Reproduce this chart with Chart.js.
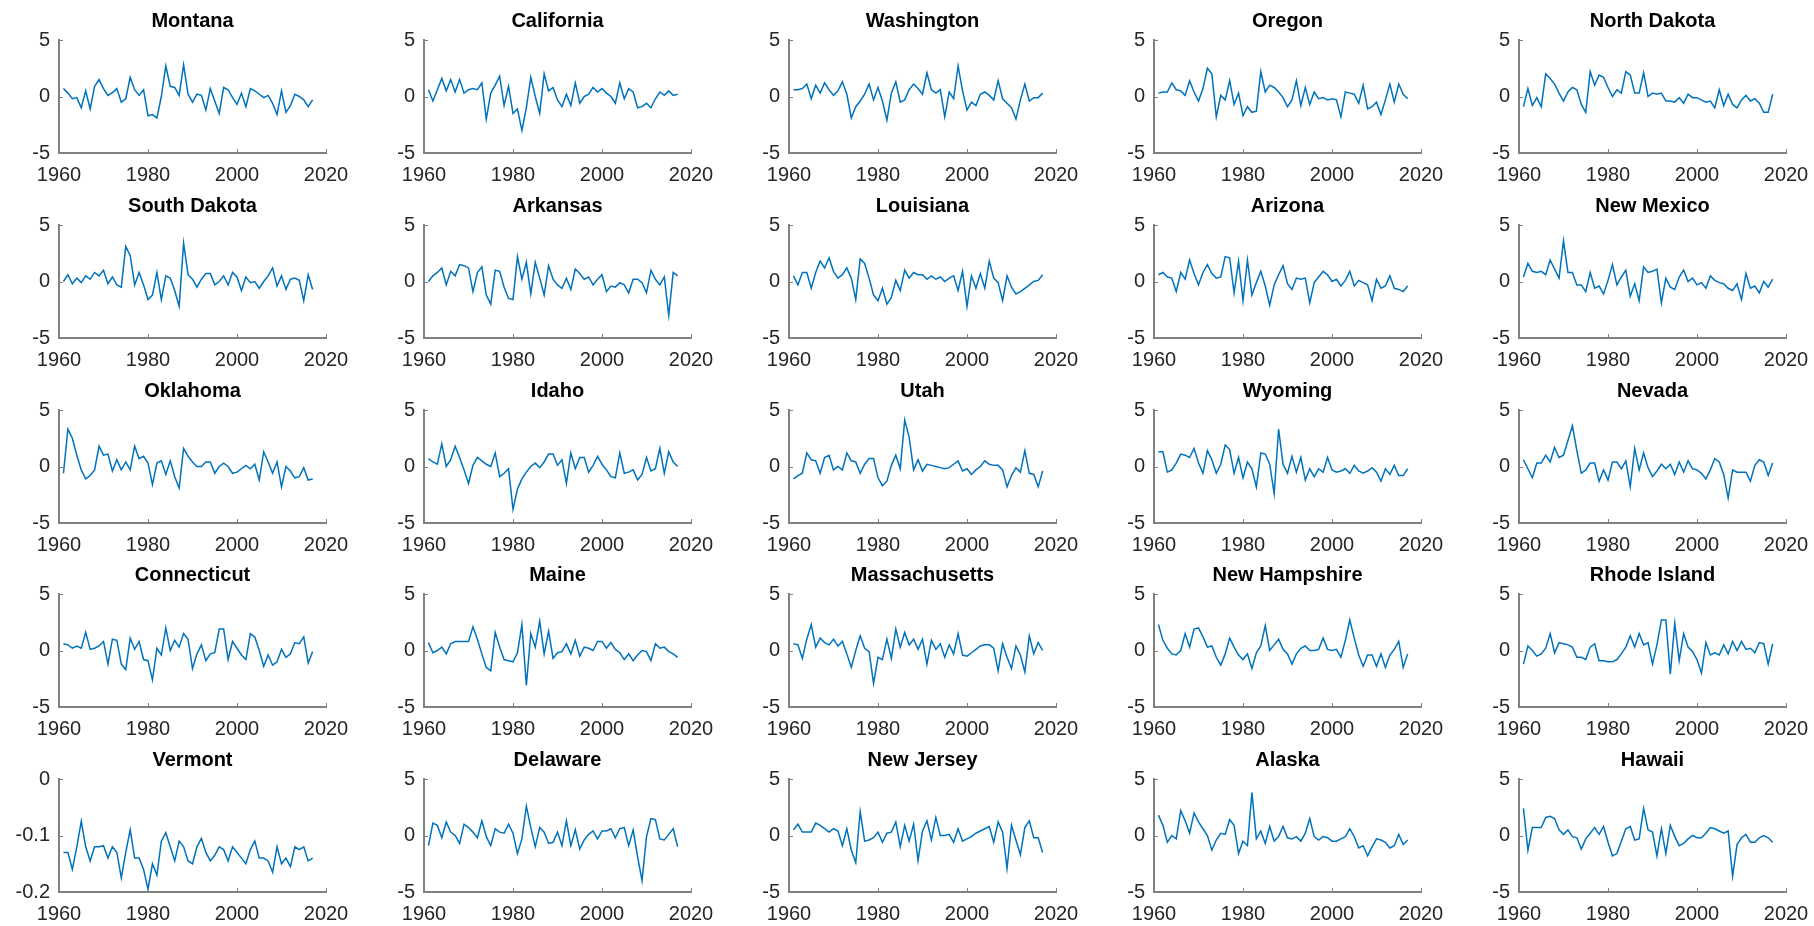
<!DOCTYPE html>
<html>
<head>
<meta charset="utf-8">
<title>State series 1961-2017</title>
<script src="https://cdn.jsdelivr.net/npm/chart.js@4.4.1/dist/chart.umd.min.js"></script>
<style>
  html, body { margin: 0; padding: 0; background: #fff; }
  body { width: 1814px; height: 926px; position: relative; overflow: hidden; }
  canvas.panel { position: absolute; }
</style>
</head>
<body>
<script>
const years = [
  1961, 1962, 1963, 1964, 1965, 1966, 1967, 1968, 1969, 1970,
  1971, 1972, 1973, 1974, 1975, 1976, 1977, 1978, 1979, 1980,
  1981, 1982, 1983, 1984, 1985, 1986, 1987, 1988, 1989, 1990,
  1991, 1992, 1993, 1994, 1995, 1996, 1997, 1998, 1999, 2000,
  2001, 2002, 2003, 2004, 2005, 2006, 2007, 2008, 2009, 2010,
  2011, 2012, 2013, 2014, 2015, 2016, 2017
];
const xTicks = [1960, 1980, 2000, 2020];
const yTicks = [-5, 0, 5];
const vermontTicks = [-0.2, -0.1, 0];

const montana = [
  0.7, 0.3, -0.2, -0.1, -1.0, 0.5, -1.1, 0.9, 1.5, 0.7,
  0.1, 0.35, 0.7, -0.5, -0.2, 1.7, 0.6, 0.1, 0.6, -1.7,
  -1.6, -1.9, 0.0, 2.7, 0.9, 0.8, 0.1, 2.8, 0.2, -0.5,
  0.2, 0.1, -1.2, 0.7, -0.4, -1.5, 0.8, 0.6, -0.1, -0.7,
  0.3, -0.9, 0.7, 0.5, 0.2, -0.1, 0.1, -0.6, -1.6, 0.5,
  -1.4, -0.8, 0.2, 0.0, -0.3, -0.9, -0.3
];
const california = [
  0.6, -0.4, 0.6, 1.6, 0.5, 1.5, 0.4, 1.5, 0.3, 0.6,
  0.7, 0.6, 1.2, -2.0, 0.3, 1.0, 1.8, -0.8, 0.9, -1.5,
  -1.1, -3.0, -1.0, 1.7, 0.0, -1.5, 2.0, 0.5, 0.8, -0.3,
  -0.9, 0.2, -0.8, 1.2, -0.6, 0.0, 0.2, 0.8, 0.4, 0.7,
  0.3, 0.0, -0.6, 1.2, -0.2, 0.7, 0.4, -1.0, -0.9, -0.6,
  -1.0, -0.2, 0.4, 0.1, 0.5, 0.1, 0.2
];
const washington = [
  0.6, 0.6, 0.7, 1.1, -0.2, 1.0, 0.3, 1.2, 0.6, 0.1,
  0.5, 1.3, 0.2, -1.9, -0.9, -0.4, 0.2, 1.1, -0.3, 0.8,
  -0.4, -2.1, 0.3, 1.3, -0.5, -0.3, 0.6, 1.1, 0.7, 0.2,
  2.1, 0.6, 0.3, 0.6, -1.8, 0.4, -0.2, 2.7, 0.5, -1.2,
  -0.5, -0.8, 0.2, 0.4, 0.1, -0.3, 1.4, -0.2, -0.6, -1.0,
  -2.0, -0.3, 1.1, -0.4, -0.1, -0.1, 0.3
];
const oregon = [
  0.3, 0.4, 0.4, 1.2, 0.6, 0.5, 0.1, 1.4, 0.4, -0.4,
  0.7, 2.5, 2.0, -1.8, 0.1, -0.3, 1.4, -0.7, 0.3, -1.7,
  -0.9, -1.4, -1.3, 2.2, 0.4, 1.0, 0.8, 0.4, -0.1, -0.9,
  -0.3, 1.4, -0.8, 0.8, -0.7, 0.4, -0.2, -0.1, -0.3, -0.2,
  -0.3, -1.8, 0.4, 0.3, 0.2, -0.6, 1.0, -1.1, -0.9, -0.5,
  -1.6, -0.3, 1.1, -0.5, 1.1, 0.2, -0.2
];
const northDakota = [
  -0.9, 0.7, -0.8, -0.1, -0.9, 2.0, 1.6, 1.1, 0.3, -0.4,
  0.4, 0.8, 0.6, -0.7, -1.4, 2.2, 1.0, 1.9, 1.7, 0.8,
  0.0, 0.6, 0.3, 2.2, 1.9, 0.3, 0.3, 2.1, 0.0, 0.3,
  0.2, 0.3, -0.4, -0.4, -0.5, -0.1, -0.6, 0.2, -0.1, -0.1,
  -0.3, -0.5, -0.4, -1.0, 0.6, -0.8, 0.2, -0.7, -1.0, -0.3,
  0.1, -0.4, -0.2, -0.6, -1.4, -1.4, 0.2
];
const southDakota = [
  0.0, 0.6, -0.2, 0.3, -0.1, 0.5, 0.2, 0.8, 0.5, 1.0,
  -0.2, 0.4, -0.3, -0.5, 3.1, 2.3, -0.3, 0.8, -0.3, -1.6,
  -1.2, 0.8, -1.6, 0.5, 0.3, -0.8, -2.2, 3.4, 0.6, 0.2,
  -0.5, 0.2, 0.7, 0.7, -0.3, 0.0, 0.5, -0.3, 0.8, 0.4,
  -0.8, 0.4, -0.1, 0.0, -0.6, 0.0, 0.5, 1.2, -0.4, 0.5,
  -0.7, 0.2, 0.3, 0.1, -1.7, 0.6, -0.7
];
const arkansas = [
  0.0, 0.5, 0.8, 1.2, -0.3, 0.9, 0.5, 1.5, 1.4, 1.2,
  -0.9, 0.8, 1.3, -1.2, -2.0, 1.0, 0.9, -0.5, -1.5, -1.6,
  2.2, 0.2, 1.7, -1.1, 1.7, 0.3, -1.2, 1.4, 0.2, -0.3,
  -0.6, 0.3, -0.7, 1.1, 0.7, 0.2, 0.4, -0.3, 0.2, 0.6,
  -0.9, -0.4, -0.5, -0.1, -0.3, -1.0, 0.2, 0.2, -0.1, -1.0,
  1.0, 0.2, -0.3, 0.4, -3.0, 0.8, 0.5
];
const louisiana = [
  0.5, -0.3, 0.8, 0.8, -0.6, 0.8, 1.8, 1.2, 2.1, 0.9,
  0.3, 0.6, 1.2, 0.3, -1.6, 2.0, 1.6, 0.3, -1.2, -1.7,
  -0.6, -2.0, -1.4, 0.1, -0.8, 1.0, 0.3, 0.8, 0.6, 0.6,
  0.2, 0.5, 0.2, 0.4, 0.0, 0.3, 0.5, -0.8, 0.9, -2.2,
  0.5, -0.6, 0.7, -0.6, 1.8, 0.3, -0.1, -1.7, 0.5, -0.5,
  -1.1, -0.9, -0.6, -0.3, 0.0, 0.1, 0.6
];
const arizona = [
  0.6, 0.8, 0.4, 0.3, -0.9, 0.8, 0.2, 1.9, 0.7, -0.3,
  0.8, 1.5, 0.7, 0.3, 0.4, 2.2, 2.1, -1.0, 1.8, -1.7,
  1.9, -1.2, -0.1, 0.9, -0.4, -2.1, -0.3, 0.6, 1.4, -0.2,
  -0.7, 0.3, 0.2, 0.3, -1.9, -0.1, 0.4, 0.9, 0.6, 0.0,
  0.2, -0.4, 0.1, 0.9, -0.4, 0.1, -0.1, -0.3, -1.7, 0.2,
  -0.6, -0.4, 0.5, -0.6, -0.7, -0.9, -0.4
];
const newMexico = [
  0.4, 1.6, 0.9, 0.8, 0.9, 0.6, 1.9, 1.1, 0.3, 3.6,
  0.8, 0.8, -0.3, -0.3, -0.9, 0.8, -0.6, -0.4, -1.1, 0.1,
  1.5, -0.3, 0.4, 1.0, -1.3, -0.2, -1.7, 1.3, 0.8, 0.9,
  1.1, -1.9, 0.3, -0.5, -0.7, 0.4, 1.0, 0.0, 0.3, -0.3,
  -0.1, -0.6, 0.5, 0.1, -0.1, -0.2, -0.6, -0.8, -0.2, -1.6,
  0.7, -0.6, -0.4, -1.0, 0.0, -0.5, 0.2
];
const oklahoma = [
  -0.6, 3.3, 2.5, 1.0, -0.3, -1.1, -0.8, -0.3, 1.8, 1.0,
  1.1, -0.4, 0.6, -0.3, 0.4, -0.3, 1.8, 0.7, 0.9, 0.3,
  -1.6, 0.3, 0.5, -0.7, 0.5, -0.9, -1.9, 1.6, 0.9, 0.4,
  0.0, 0.0, 0.4, 0.4, -0.6, 0.0, 0.3, 0.0, -0.6, -0.5,
  -0.2, 0.1, -0.2, 0.2, -1.2, 1.3, 0.4, -0.6, 0.4, -1.8,
  0.0, -0.4, -1.0, -0.9, -0.1, -1.2, -1.1
];
const idaho = [
  0.7, 0.4, 0.2, 2.0, 0.0, 0.6, 1.8, 0.8, -0.3, -1.5,
  0.1, 0.8, 0.5, 0.2, 0.0, 1.2, -0.9, -0.6, -0.2, -3.8,
  -2.0, -1.1, -0.5, 0.0, 0.3, -0.1, 0.4, 1.1, 1.1, 0.1,
  0.6, -1.5, 1.2, -0.2, 0.8, 0.8, -0.5, 0.1, 0.9, 0.2,
  -0.3, -0.9, -1.0, 1.2, -0.6, -0.5, -0.3, -1.2, -0.7, 0.8,
  -0.4, -0.2, 1.6, -0.6, 1.3, 0.4, 0.0
];
const utah = [
  -1.1, -0.8, -0.6, 1.2, 0.6, 0.5, -0.6, 0.8, 1.0, -0.3,
  0.0, -0.3, 1.2, 0.5, 0.4, -0.6, 0.2, 0.7, 0.7, -1.0,
  -1.7, -1.3, 0.1, 1.0, -0.2, 4.1, 2.6, -0.3, 0.6, -0.4,
  0.2, 0.1, 0.0, -0.1, -0.2, -0.1, 0.2, 0.5, -0.4, -0.2,
  -0.7, -0.3, 0.0, 0.5, 0.2, 0.1, 0.1, -0.3, -1.8, -0.8,
  -0.1, -0.5, 1.4, -0.6, -0.7, -1.8, -0.4
];
const wyoming = [
  1.3, 1.3, -0.5, -0.3, 0.3, 1.1, 1.0, 0.8, 1.6, 0.3,
  -0.6, 1.4, 0.6, -0.6, 0.2, 1.9, 1.5, -0.6, 0.8, -1.0,
  0.4, -0.2, -1.8, 1.2, 1.1, 0.2, -2.4, 3.3, 0.2, -0.6,
  0.9, -0.5, 0.8, -1.2, -0.2, -0.9, -0.2, -0.5, 0.8, -0.3,
  -0.5, -0.4, -0.2, -0.6, 0.1, -0.4, -0.6, -0.4, -0.1, -0.5,
  -1.3, -0.2, -0.7, 0.1, -0.8, -0.8, -0.2
];
const nevada = [
  0.6, -0.2, -1.0, 0.3, 0.3, 1.0, 0.4, 1.7, 0.8, 1.0,
  2.3, 3.6, 1.4, -0.6, -0.3, 0.3, 0.3, -1.3, -0.3, -1.2,
  0.4, 0.4, -0.2, 0.5, -1.8, 1.6, -0.3, 1.2, -0.1, -0.9,
  -0.4, 0.2, -0.2, 0.2, -0.7, 0.4, -0.5, 0.5, -0.2, -0.3,
  -0.6, -1.1, -0.3, 0.7, 0.4, -0.7, -2.8, -0.3, -0.5, -0.5,
  -0.5, -1.3, 0.1, 0.6, 0.4, -0.8, 0.3
];
const connecticut = [
  0.6, 0.5, 0.2, 0.4, 0.2, 1.6, 0.1, 0.2, 0.4, 0.8,
  -1.2, 1.0, 0.9, -1.2, -1.7, 1.1, 0.1, 0.8, -0.8, -0.9,
  -2.6, 0.2, -0.4, 2.0, 0.0, 0.9, 0.3, 1.5, 1.0, -1.6,
  -0.3, 0.5, -0.9, -0.3, -0.2, 1.9, 1.9, -0.8, 0.8, 0.2,
  -0.4, -0.8, 1.5, 1.2, 0.0, -1.4, -0.4, -1.3, -1.0, 0.1,
  -0.6, -0.3, 0.7, 0.6, 1.2, -1.1, -0.1
];
const maine = [
  0.7, -0.2, 0.0, 0.3, -0.3, 0.6, 0.8, 0.8, 0.8, 0.8,
  2.1, 1.0, -0.3, -1.5, -1.8, 1.6, 0.3, -0.8, -0.9, -1.0,
  -0.2, 2.3, -3.1, 1.5, 0.3, 2.6, -0.3, 1.7, -0.7, -0.2,
  -0.1, 0.6, -0.3, 0.9, -0.5, 0.3, 0.2, 0.0, 0.8, 0.8,
  0.2, 0.7, 0.1, -0.2, -0.8, -0.3, -0.9, -0.4, 0.0, -0.1,
  -0.9, 0.6, 0.2, 0.3, -0.1, -0.3, -0.6
];
const massachusetts = [
  0.6, 0.5, -0.7, 1.0, 2.3, 0.3, 1.1, 0.7, 0.5, 1.0,
  0.4, 0.8, -0.3, -1.5, 0.0, 1.3, 0.2, -0.1, -2.9, -0.6,
  -0.8, 1.0, -0.7, 1.9, 0.3, 1.6, 0.5, 1.0, 0.1, 1.0,
  -1.2, 0.9, 0.1, 0.6, -0.6, 0.5, -0.3, 1.5, -0.4, -0.5,
  -0.2, 0.1, 0.4, 0.5, 0.5, 0.2, -1.8, 0.6, -0.6, -1.6,
  0.4, -0.4, -1.9, 1.3, -0.3, 0.7, 0.0
];
const newHampshire = [
  2.3, 0.9, 0.2, -0.3, -0.4, 0.0, 1.5, 0.3, 1.9, 2.0,
  1.2, 0.3, 0.4, -0.6, -1.3, -0.3, 1.1, 0.3, -0.4, -0.8,
  -0.3, -1.6, -0.2, 0.4, 2.2, 0.0, 0.5, 1.0, 0.1, -0.3,
  -1.2, -0.3, 0.2, 0.4, 0.0, 0.0, 0.1, 1.1, 0.1, 0.0,
  0.1, -0.6, 0.9, 2.7, 1.1, -0.4, -1.4, -0.4, -0.4, -1.4,
  -0.3, -1.5, -0.4, 0.1, 0.8, -1.5, -0.3
];
const rhodeIsland = [
  -1.2, 0.4, 0.0, -0.5, -0.3, 0.2, 1.5, -0.2, 0.7, 0.6,
  0.5, 0.3, -0.6, -0.6, -0.8, 0.3, 0.6, -0.9, -0.9, -1.0,
  -1.0, -0.8, -0.3, 0.3, 1.3, 0.3, 1.5, 0.5, 0.7, -1.2,
  0.5, 2.7, 2.7, -2.1, 2.4, -0.9, 1.5, 0.3, -0.1, -0.8,
  -2.0, 0.7, -0.4, -0.2, -0.4, 0.5, -0.3, 0.8, 0.0, 0.8,
  0.1, 0.2, -0.2, 0.7, 0.6, -1.2, 0.6
];
const vermont = [
  -0.13, -0.13, -0.16, -0.12, -0.075, -0.12, -0.145, -0.12, -0.12, -0.118,
  -0.14, -0.12, -0.13, -0.175, -0.13, -0.09, -0.14, -0.14, -0.16, -0.195,
  -0.15, -0.17, -0.11, -0.095, -0.12, -0.145, -0.11, -0.12, -0.145, -0.15,
  -0.12, -0.105, -0.13, -0.145, -0.135, -0.12, -0.125, -0.145, -0.12, -0.13,
  -0.14, -0.15, -0.125, -0.11, -0.14, -0.14, -0.145, -0.165, -0.12, -0.15,
  -0.14, -0.155, -0.12, -0.125, -0.12, -0.145, -0.14
];
const delaware = [
  -0.9, 1.1, 0.9, -0.2, 1.2, 0.3, 0.0, -0.7, 1.0, 0.7,
  0.3, -0.2, 1.3, -0.1, -0.9, 0.6, 0.3, 0.2, 1.0, 0.2,
  -1.6, -0.3, 2.6, 0.7, -1.0, 0.7, 0.3, -0.7, -0.6, 0.3,
  -0.9, 1.3, -0.9, 0.5, -1.2, -0.4, 0.1, 0.4, -0.3, 0.4,
  0.4, 0.6, -0.2, 0.6, 0.7, -0.9, 0.5, -1.9, -4.0, -0.1,
  1.5, 1.4, -0.3, -0.4, 0.1, 0.6, -1.0
];
const newJersey = [
  0.5, 1.0, 0.3, 0.3, 0.3, 1.1, 0.9, 0.6, 0.3, 0.6,
  0.4, -0.9, 0.6, -1.3, -2.4, 2.1, -0.5, -0.4, -0.2, 0.3,
  -0.6, 0.2, 0.3, 1.2, -1.0, 0.9, -0.5, 1.0, -2.2, 0.4,
  1.3, -0.4, 1.6, 0.0, 0.0, 0.1, -0.6, 0.6, -0.5, -0.3,
  -0.1, 0.2, 0.4, 0.6, 0.8, -0.6, 1.2, 0.3, -2.9, 0.9,
  -0.4, -1.7, 0.7, 1.3, -0.2, -0.2, -1.5
];
const alaska = [
  1.8, 0.9, -0.6, 0.0, -0.3, 2.2, 1.3, 0.2, 2.0, 1.2,
  0.6, 0.0, -1.3, -0.4, 0.2, 0.1, 1.4, 0.9, -1.6, -0.5,
  -0.9, 3.8, -0.3, 0.4, -0.7, 0.8, -0.5, -0.1, 0.8, -0.2,
  -0.3, -0.1, -0.5, 0.2, 1.5, -0.1, -0.4, -0.1, -0.2, -0.5,
  -0.5, -0.3, -0.1, 0.6, -0.1, -1.1, -0.9, -1.8, -1.0, -0.3,
  -0.4, -0.6, -1.1, -0.9, 0.1, -0.8, -0.4
];
const hawaii = [
  2.4, -1.3, 0.7, 0.7, 0.7, 1.6, 1.7, 1.5, 0.5, 0.1,
  0.5, -0.1, -0.2, -1.2, -0.3, 0.2, 0.7, 0.1, 0.8, -0.6,
  -1.8, -1.6, -0.5, 0.6, 0.8, -0.4, -0.3, 2.4, 0.5, 0.3,
  -1.8, 0.6, -1.6, 0.9, -0.1, -0.9, -0.7, -0.3, 0.0, -0.2,
  -0.2, 0.2, 0.7, 0.6, 0.4, 0.2, 0.4, -3.6, -0.8, -0.2,
  0.1, -0.6, -0.6, -0.2, 0.0, -0.2, -0.6
];

const panels = [
  { title: 'Montana', values: montana },
  { title: 'California', values: california },
  { title: 'Washington', values: washington },
  { title: 'Oregon', values: oregon },
  { title: 'North Dakota', values: northDakota },
  { title: 'South Dakota', values: southDakota },
  { title: 'Arkansas', values: arkansas },
  { title: 'Louisiana', values: louisiana },
  { title: 'Arizona', values: arizona },
  { title: 'New Mexico', values: newMexico },
  { title: 'Oklahoma', values: oklahoma },
  { title: 'Idaho', values: idaho },
  { title: 'Utah', values: utah },
  { title: 'Wyoming', values: wyoming },
  { title: 'Nevada', values: nevada },
  { title: 'Connecticut', values: connecticut },
  { title: 'Maine', values: maine },
  { title: 'Massachusetts', values: massachusetts },
  { title: 'New Hampshire', values: newHampshire },
  { title: 'Rhode Island', values: rhodeIsland },
  { title: 'Vermont', values: vermont, ticks: vermontTicks },
  { title: 'Delaware', values: delaware },
  { title: 'New Jersey', values: newJersey },
  { title: 'Alaska', values: alaska },
  { title: 'Hawaii', values: hawaii }
];

// layout of the 5x5 grid (one canvas per panel)
const COLS = 5;
const COL_STEP = 365;
const ROW_STEP = 184.75;
const CW = 364, CH = 185;
const AXIS_COLOR = '#808080';
const LINE_COLOR = '#0072BD';
const FONT = "'Liberation Sans', Arial, Helvetica, sans-serif";

// MATLAB-style small inward tick marks
const inwardTicks = {
  id: 'inwardTicks',
  afterDatasetsDraw(chart) {
    const { ctx, chartArea, scales: { x, y } } = chart;
    ctx.save();
    ctx.strokeStyle = AXIS_COLOR;
    ctx.lineWidth = 1;
    x.ticks.forEach(t => {
      const px = Math.round(x.getPixelForValue(t.value)) + 0.5;
      ctx.beginPath();
      ctx.moveTo(px, chartArea.bottom);
      ctx.lineTo(px, chartArea.bottom - 4);
      ctx.stroke();
    });
    y.ticks.forEach(t => {
      const py = Math.round(y.getPixelForValue(t.value)) + 0.5;
      ctx.beginPath();
      ctx.moveTo(chartArea.left, py);
      ctx.lineTo(chartArea.left + 4, py);
      ctx.stroke();
    });
    ctx.restore();
  }
};

function makePanel(panel, i) {
  const canvas = document.createElement('canvas');
  canvas.className = 'panel';
  canvas.width = CW;
  canvas.height = CH;
  canvas.style.left = (i % COLS) * COL_STEP + 'px';
  canvas.style.top = Math.round(Math.floor(i / COLS) * ROW_STEP) + 'px';
  document.body.appendChild(canvas);

  const ticks = panel.ticks || yTicks;
  const points = years.map((yr, k) => ({ x: yr, y: panel.values[k] }));

  new Chart(canvas, {
    type: 'line',
    data: {
      datasets: [{
        data: points,
        borderColor: LINE_COLOR,
        borderWidth: 1.5,
        pointRadius: 0,
        tension: 0,
        fill: false
      }]
    },
    options: {
      responsive: false,
      animation: false,
      events: [],
      layout: { padding: { left: 0, right: 38, top: 0, bottom: 0 } },
      plugins: {
        legend: { display: false },
        tooltip: { enabled: false },
        title: {
          display: true,
          text: panel.title,
          fullSize: false,
          color: '#000',
          font: { family: FONT, size: 20, weight: 'bold', lineHeight: 1.2 },
          padding: { top: 9, bottom: 7 }
        }
      },
      scales: {
        x: {
          type: 'linear',
          min: xTicks[0],
          max: xTicks[xTicks.length - 1],
          afterBuildTicks: s => { s.ticks = xTicks.map(v => ({ value: v })); },
          afterFit: s => { s.height = 32; },
          grid: { display: false, drawTicks: false },
          border: { display: true, color: AXIS_COLOR, width: 2 },
          ticks: {
            color: '#262626',
            font: { family: FONT, size: 20 },
            padding: 10,
            maxRotation: 0,
            autoSkip: false,
            callback: v => String(v)
          }
        },
        y: {
          type: 'linear',
          min: ticks[0],
          max: ticks[ticks.length - 1],
          afterBuildTicks: s => { s.ticks = ticks.map(v => ({ value: v })); },
          afterFit: s => { s.width = 59; },
          grid: { display: false, drawTicks: false },
          border: { display: true, color: AXIS_COLOR, width: 2 },
          ticks: {
            color: '#262626',
            font: { family: FONT, size: 20 },
            padding: 9,
            autoSkip: false,
            callback: v => String(v)
          }
        }
      }
    },
    plugins: [inwardTicks]
  });
}

panels.forEach(makePanel);
</script>
</body>
</html>
